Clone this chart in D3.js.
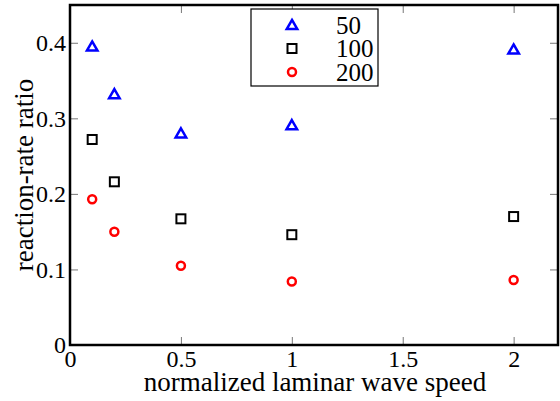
<!DOCTYPE html>
<html>
<head>
<meta charset="utf-8">
<script src="https://cdn.jsdelivr.net/npm/d3@7"></script>
<style>
  body { margin: 0; background: #fff; }
  svg { display: block; }
</style>
</head>
<body>
<svg id="container" width="560" height="401"></svg>
<script>
// data
const speeds = [0.1, 0.2, 0.5, 1, 2];
const series = ["50", "100", "200"];
const ratio50 = [0.395, 0.332, 0.280, 0.291, 0.391];
const ratio100 = [0.272, 0.216, 0.167, 0.146, 0.170];
const ratio200 = [0.193, 0.150, 0.105, 0.084, 0.086];
const xTicks = [0, 0.5, 1, 1.5, 2];
const yTicks = [0, 0.1, 0.2, 0.3, 0.4];

const serif = "'Liberation Serif', 'DejaVu Serif', serif";
const margin = { top: 5, bottom: 56, left: 70, right: 2 };
const width = 560, height = 401;
const plotW = width - margin.left - margin.right;
const plotH = height - margin.top - margin.bottom;

const xScale = d3.scaleLinear().domain([0, 2.2]).range([0, plotW]);
const yScale = d3.scaleLinear().domain([0, 0.45]).range([plotH, 0]);

const svg = d3.select("#container");
const body = svg.append("g")
    .attr("transform", `translate(${margin.left},${margin.top})`);

// inward ticks on all four sides
function tickStyle(g) {
    g.select(".domain").remove();
    g.attr("font-family", serif);
    g.selectAll(".tick line").attr("stroke", "#777").attr("stroke-width", 1);
}

body.append("g")
    .attr("transform", `translate(0,${plotH})`)
    .call(d3.axisBottom(xScale).tickValues(xTicks).tickSize(-8)
        .tickFormat(d => d3.format("~g")(d)))
    .call(tickStyle)
    .selectAll("text")
    .style("font-family", serif)
    .style("font-size", "24px")
    .attr("fill", "#000")
    .attr("y", 22)
    .attr("dy", 0);

body.append("g")
    .call(d3.axisTop(xScale).tickValues(xTicks).tickSize(-8).tickFormat(""))
    .call(tickStyle);

body.append("g")
    .call(d3.axisLeft(yScale).tickValues(yTicks).tickSize(-8)
        .tickFormat(d => d === 0 ? "0" : d3.format(".1f")(d)))
    .call(tickStyle)
    .selectAll("text")
    .style("font-family", serif)
    .style("font-size", "24px")
    .attr("fill", "#000")
    .attr("x", -4)
    .attr("dy", "0.33em");

body.append("g")
    .attr("transform", `translate(${plotW},0)`)
    .call(d3.axisRight(yScale).tickValues(yTicks).tickSize(-8).tickFormat(""))
    .call(tickStyle);

// frame
body.append("rect")
    .attr("x", 0).attr("y", 0)
    .attr("width", plotW).attr("height", plotH)
    .attr("fill", "none")
    .attr("stroke", "#000")
    .attr("stroke-width", 2.5);

// axis titles
svg.append("text")
    .attr("x", 315)
    .attr("y", 391)
    .attr("text-anchor", "middle")
    .style("font-family", serif)
    .style("font-size", "27px")
    .text("normalized laminar wave speed");

svg.append("text")
    .attr("transform", `translate(33,175) rotate(-90)`)
    .attr("text-anchor", "middle")
    .style("font-family", serif)
    .style("font-size", "27px")
    .text("reaction-rate ratio");

// markers
const triangle = d3.symbol().type(d3.symbolTriangle).size(48);
function drawMarker(sel, kind) {
    if (kind === "50") {
        sel.append("path").attr("d", triangle)
            .attr("transform", "translate(0,1)")
            .attr("fill", "none").attr("stroke", "#0000ff").attr("stroke-width", 2.5);
    } else if (kind === "100") {
        sel.append("rect").attr("x", -4.5).attr("y", -4.5).attr("width", 9).attr("height", 9)
            .attr("fill", "none").attr("stroke", "#000").attr("stroke-width", 2);
    } else {
        sel.append("circle").attr("r", 4)
            .attr("fill", "none").attr("stroke", "#ff0000").attr("stroke-width", 2.5);
    }
}

const allSeries = [ratio50, ratio100, ratio200];
allSeries.forEach((vals, si) => {
    const pts = body.append("g").selectAll("g")
        .data(vals.map((v, i) => ({ x: speeds[i], y: v }))).enter()
        .append("g")
        .attr("transform", d => `translate(${xScale(d.x)},${yScale(d.y)})`);
    drawMarker(pts, series[si]);
});

// legend
const legend = svg.append("g").attr("transform", "translate(251,9)");
legend.append("rect")
    .attr("width", 127).attr("height", 77)
    .attr("fill", "#fff").attr("stroke", "#000").attr("stroke-width", 1.2);
series.forEach((s, i) => {
    const row = legend.append("g").attr("transform", `translate(41,${16 + i * 23.5})`);
    drawMarker(row, s);
    row.append("text")
        .attr("x", 44).attr("dy", "0.35em")
        .style("font-family", serif)
        .style("font-size", "25px")
        .text(s);
});
</script>
</body>
</html>
